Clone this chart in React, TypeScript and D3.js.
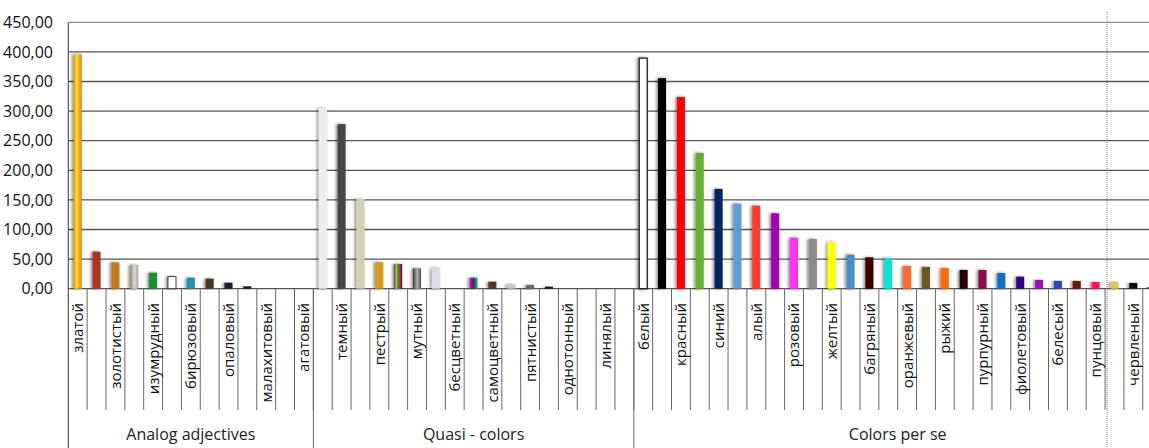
import React, { useEffect, useRef } from 'react'
import * as d3 from 'd3'

// groups of the multi-level category axis
const groupNames = ['Analog adjectives', 'Quasi - colors', 'Colors per se']
const groupSizes = [13, 17, 28]

// Excel skipped every second label, so only the odd categories are readable
const categoryLabels = [
  'златой', '', 'золотистый', '', 'изумрудный', '', 'бирюзовый', '', 'опаловый', '', 'малахитовый', '', 'агатовый',
  '', 'темный', '', 'пестрый', '', 'мутный', '', 'бесцветный', '', 'самоцветный', '', 'пятнистый', '', 'однотонный', '', 'линялый', '',
  'белый', '', 'красный', '', 'синий', '', 'алый', '', 'розовый', '', 'желтый', '', 'багряный', '', 'оранжевый', '',
  'рыжий', '', 'пурпурный', '', 'фиолетовый', '', 'белесый', '', 'пунцовый', '', 'червленый', ''
]

const values = [
  396, 62.6, 44.5, 40, 27, 20.3, 18.6, 16.9, 10, 4, 0, 0, 0,
  305, 278, 151.6, 44.6, 41.7, 34.4, 34.4, 0, 18.6, 11.8, 7.3, 6.2, 3.4, 0, 0, 0, 0,
  389.4, 355.6, 324, 229.4, 168.5, 143.7, 140.3, 127.4, 86.2, 84, 79, 57.5, 53, 51.9, 38.4,
  36.7, 35, 31.6, 31.6, 26.5, 20.3, 14.7, 13, 13, 11.3, 11.3, 9.6, 2
]

const barColors = [
  'url(#gold)', '#a8341a', '#c27a1c', 'url(#silver)', '#13922f', '#ffffff', '#1a8fb3', '#4e3420', '#141a30', '#1e1e2c', '#fff', '#fff', '#fff',
  '#eeeeee', '#474747', '#d6d0b2', '#d8981e', 'url(#motley)', 'url(#murky)', '#dcdbe8', '#fff', 'url(#gem)', '#5c3512', '#c9c9c9', '#6a6a6a', '#151515', '#fff', '#fff', '#fff', '#fff',
  '#ffffff', '#000000', '#ff0000', '#66b22e', '#06275e', '#5f9bd6', '#ff3b2c', '#a600b4', '#ff33ff', '#8a8a8a', '#ffff00', '#4a8fc2', '#3a0006', '#10e0d8', '#ff6a30',
  '#6b5a22', '#ff6a08', '#2a0408', '#8c0a4a', '#0a70c4', '#34068a', '#a010c8', '#1c4fbe', '#701200', '#ff1450', '#e8c050', '#0a0a0a', '#ffffff'
]

const yTicks = [0, 50, 100, 150, 200, 250, 300, 350, 400, 450]

export default function App() {
  const ref = useRef<SVGSVGElement>(null)

  useEffect(() => {
    const width = 1149
    const height = 448
    const margin = { top: 22.3, left: 68.3, baseline: 288.7 }
    const slot = 18.85

    const svg = d3.select(ref.current)
    svg.selectAll('*').remove()
    svg.attr('width', width).attr('height', height)

    const defs = svg.append('defs')
    const grad = (id: string, stops: string[]) => {
      const g = defs.append('linearGradient').attr('id', id)
        .attr('x1', '0').attr('x2', '1').attr('y1', '0').attr('y2', '0')
      stops.forEach((c, i) => g.append('stop').attr('offset', i / (stops.length - 1)).attr('stop-color', c))
    }
    grad('gold', ['#d99500', '#ffd84a', '#f2b312', '#d38f00'])
    grad('silver', ['#8d8a80', '#dcdad2', '#a8a69c'])
    grad('motley', ['#1a3cc0', '#e0c000', '#20a040', '#d02020', '#1a1a60'])
    grad('murky', ['#3a3a3a', '#b0b0b0', '#505050'])
    grad('gem', ['#e0109a', '#402080', '#20c060'])

    const shadow = defs.append('filter').attr('id', 'shadow')
      .attr('x', '-100%').attr('y', '-10%').attr('width', '300%').attr('height', '120%')
    shadow.append('feDropShadow').attr('dx', -1.5).attr('dy', 0).attr('stdDeviation', 1.5)
      .attr('flood-color', '#000').attr('flood-opacity', 0.5)

    const n = values.length
    const x = d3.scaleBand<number>()
      .domain(d3.range(n))
      .range([margin.left, margin.left + n * slot])
      .padding(0)

    const y = d3.scaleLinear()
      .domain([0, 450])
      .range([margin.baseline, margin.top])

    const font = "'Open Sans', 'Noto Sans', sans-serif"

    // gridlines
    svg.append('g')
      .selectAll('line')
      .data(yTicks)
      .enter()
      .append('line')
      .attr('x1', margin.left)
      .attr('x2', width)
      .attr('y1', d => y(d))
      .attr('y2', d => y(d))
      .attr('stroke', d => d === 450 ? '#8a8a8a' : '#555')
      .attr('stroke-width', 1.3)

    // y labels
    svg.append('g')
      .selectAll('text')
      .data(yTicks)
      .enter()
      .append('text')
      .attr('x', 53)
      .attr('y', d => y(d))
      .attr('dy', '0.36em')
      .attr('text-anchor', 'end')
      .attr('font-family', font)
      .attr('font-size', 16)
      .attr('fill', '#111')
      .text(d => d3.format('.2f')(d).replace('.', ','))

    // y axis line
    svg.append('line')
      .attr('x1', margin.left).attr('x2', margin.left)
      .attr('y1', margin.top).attr('y2', height)
      .attr('stroke', '#555').attr('stroke-width', 1.2)

    // bars
    const bw = 8
    svg.append('g')
      .selectAll('rect')
      .data(values.map((v, i) => ({ i, v })).filter(d => d.v > 0))
      .enter()
      .append('rect')
      .attr('x', d => x(d.i)! + x.bandwidth() / 2 - bw / 2)
      .attr('y', d => y(d.v))
      .attr('width', bw)
      .attr('height', d => y(0) - y(d.v))
      .attr('fill', d => barColors[d.i])
      .attr('stroke', d => barColors[d.i] === '#ffffff' ? '#222' : 'none')
      .attr('stroke-width', d => d.i === 30 ? 1.3 : 0.8)
      .attr('filter', 'url(#shadow)')

    // category separators
    const bounds = d3.range(1, n + 1)
    svg.append('g')
      .selectAll('line')
      .data(bounds)
      .enter()
      .append('line')
      .attr('x1', d => x(d - 1)! + x.bandwidth())
      .attr('x2', d => x(d - 1)! + x.bandwidth())
      .attr('y1', margin.baseline)
      .attr('y2', 410)
      .attr('stroke', '#666')
      .attr('stroke-width', 1)

    // group separators
    const groupEnds = d3.cumsum(groupSizes)
    svg.append('g')
      .selectAll('line')
      .data(Array.from(groupEnds))
      .enter()
      .append('line')
      .attr('x1', d => x(d - 1)! + x.bandwidth())
      .attr('x2', d => x(d - 1)! + x.bandwidth())
      .attr('y1', margin.baseline)
      .attr('y2', height)
      .attr('stroke', '#666')
      .attr('stroke-width', 1)

    // category labels
    svg.append('g')
      .selectAll('text')
      .data(categoryLabels.map((t, i) => ({ t, i })).filter(d => d.t))
      .enter()
      .append('text')
      .attr('transform', d => `translate(${x(d.i)! + x.bandwidth() / 2},303) rotate(-90)`)
      .attr('dy', '0.36em')
      .attr('text-anchor', 'end')
      .attr('font-family', font)
      .attr('font-size', 15)
      .attr('fill', '#111')
      .text(d => d.t)

    // group labels
    svg.append('g')
      .selectAll('text')
      .data(groupNames)
      .enter()
      .append('text')
      .attr('x', (d, i) => {
        const start = i === 0 ? 0 : groupEnds[i - 1]
        return (x(start)! + x(groupEnds[i] - 1)! + x.bandwidth()) / 2
      })
      .attr('y', 440)
      .attr('text-anchor', 'middle')
      .attr('font-family', font)
      .attr('font-size', 16)
      .attr('fill', '#222')
      .text(d => d)

    // dotted selection line from the original screenshot
    svg.append('line')
      .attr('x1', 1107).attr('x2', 1107)
      .attr('y1', 12).attr('y2', height)
      .attr('stroke', '#777')
      .attr('stroke-dasharray', '1,1')
  }, [])

  return (
    <svg ref={ref} style={{ position: 'absolute', left: 0, top: 0, background: '#fff' }} />
  )
}
